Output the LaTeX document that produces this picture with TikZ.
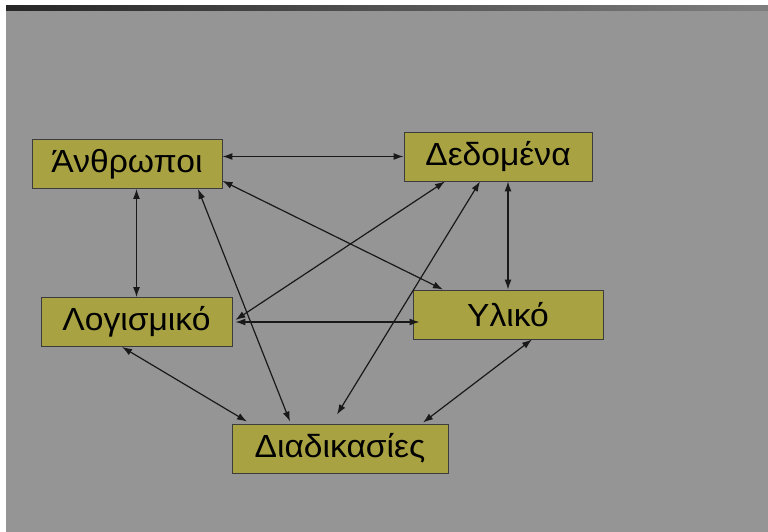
\documentclass[tikz,border=0pt]{standalone}
\usepackage{fontspec}
\setmainfont{Liberation Sans}[FakeStretch=1.05]
\usepackage{tikz}
\usetikzlibrary{arrows.meta, positioning, calc}
\usepackage{xcolor}
\definecolor{slidegray}{RGB}{149,149,149}
\definecolor{olivebox}{RGB}{169,162,66}
\definecolor{boxline}{RGB}{60,60,60}

\begin{document}
\begin{tikzpicture}[x=1pt,y=-1pt,
  part/.style={draw=boxline, line width=0.9pt, fill=olivebox, minimum height=49pt,
    inner sep=0pt, font=\fontsize{32}{38}\selectfont},
  link/.style={{Latex[length=10pt,width=7pt]}-{Latex[length=10pt,width=7pt]}, line width=1.2pt, black!90}]
  % slide background
  \useasboundingbox (0,0) rectangle (768,532);
  \fill[white] (0,0) rectangle (768,532);
  \fill[slidegray] (6,6) rectangle (768,532);
  \shade[left color=black!85, right color=black!15!slidegray] (6,6) rectangle (768,11);

  \node[part, minimum width=190pt] (anth) at (127,164) {Άνθρωποι};
  \node[part, minimum width=188pt] (dedo) at (498,156.5) {Δεδομένα};
  \node[part, minimum width=191pt] (logi) at (136.5,322) {Λογισμικό};
  \node[part, minimum width=190pt] (ylik) at (508,314.5) {Υλικό};
  \node[part, minimum width=216pt] (diad) at (340,448.5) {Διαδικασίες};

  \draw[link] (anth.east |- dedo.west) -- (dedo.west);
  \draw[link] (anth.south -| logi.north) -- (logi.north);
  \draw[link] (anth.-10) -- (ylik.159);
  \draw[link] ([xshift=71pt]anth.south) -- ([xshift=-50pt,yshift=2pt]diad.north);
  \draw[link] ([xshift=-53pt]dedo.south) -- ([xshift=3pt,yshift=2pt]logi.east);
  \draw[link] ([xshift=-18pt]dedo.south) -- ([xshift=-3pt,yshift=9pt]diad.north);
  \draw[link] (dedo.south -| ylik.north) -- (ylik.north);
  \draw[link] ([xshift=3pt]logi.east) -- ([xshift=7pt]ylik.west |- logi.east);
  \draw[link] ([xshift=-14.5pt]logi.south) -- ([xshift=-93pt,yshift=2pt]diad.north);
  \draw[link] ([xshift=24pt]ylik.south) -- ([xshift=83pt,yshift=1pt]diad.north);
\end{tikzpicture}
\end{document}
